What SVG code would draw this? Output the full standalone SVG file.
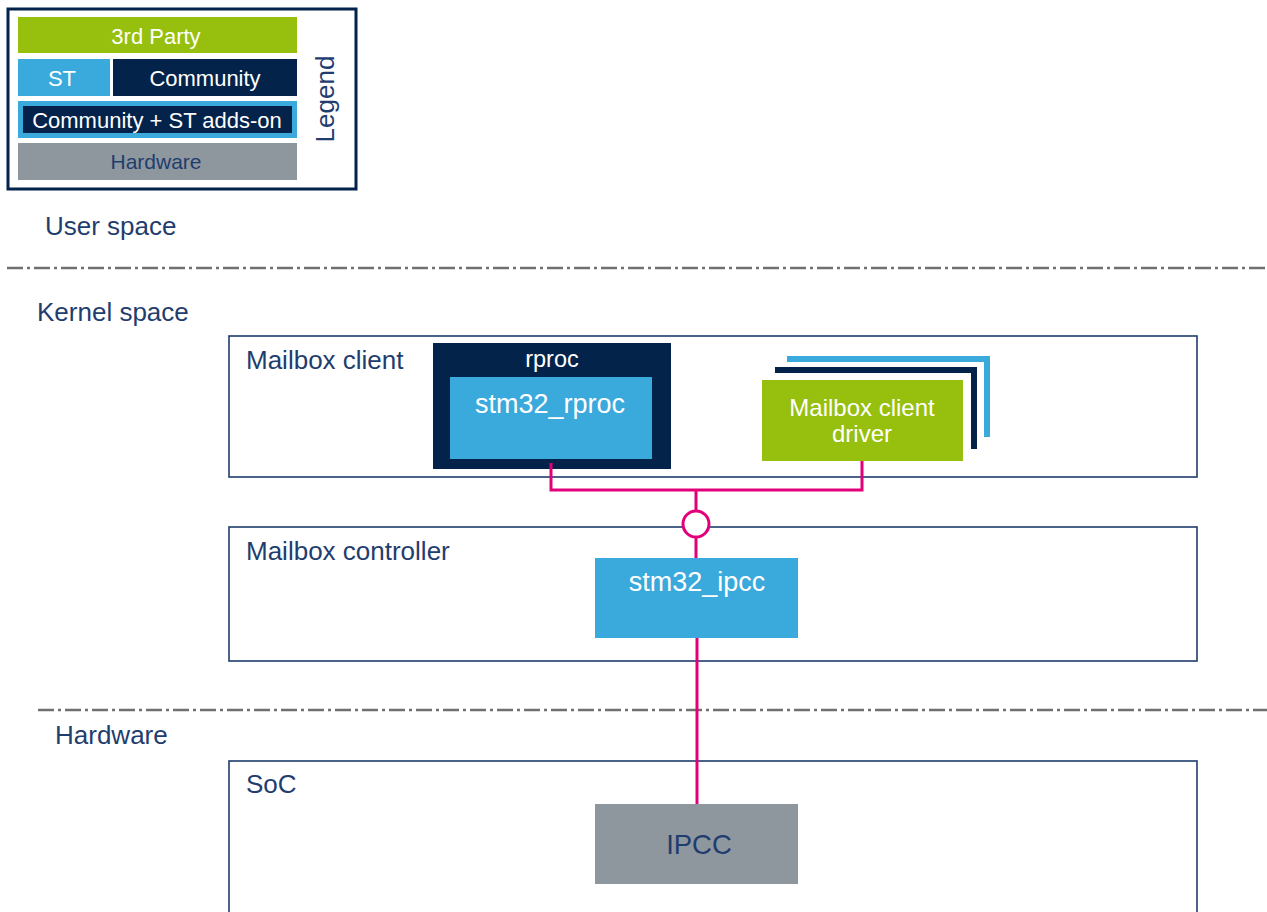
<svg xmlns="http://www.w3.org/2000/svg" width="1267" height="912" viewBox="0 0 1267 912">
<style>
text{font-family:"Liberation Sans",Arial,sans-serif}
.t{fill:#1F3D6E;font-size:26px}
.w{fill:#FFFFFF;text-anchor:middle}
.lg{font-size:22px;text-anchor:middle}
.frame{fill:#FFFFFF;stroke:#1E3C6C;stroke-width:1.6}
.navy{fill:#03234B}
.blue{fill:#3AA9DC}
.green{fill:#97BF0D}
.gray{fill:#8F979E}
.sep{fill:none;stroke:#707070;stroke-width:2.5;stroke-dasharray:16 4 3 4}
.link{fill:none;stroke:#E2007A;stroke-width:3}
</style>
<rect width="1267" height="912" fill="#FFFFFF"/>

<g id="legend">
<rect x="8" y="9" width="348" height="180" fill="#FFFFFF" stroke="#03234B" stroke-width="3"/>
<rect x="18" y="17" width="279" height="36" class="green"/>
<text x="156" y="44" class="lg w">3rd Party</text>
<rect x="18" y="59" width="92" height="37" class="blue"/>
<text x="62" y="86" class="lg w">ST</text>
<rect x="113" y="59" width="184" height="37" class="navy"/>
<text x="205" y="86" class="lg w">Community</text>
<rect x="18" y="101" width="279" height="37" class="blue"/>
<rect x="23" y="106" width="269" height="27" class="navy"/>
<text x="157" y="128" class="lg w">Community + ST adds-on</text>
<rect x="18" y="143" width="279" height="37" class="gray"/>
<text x="156" y="169" font-size="21" text-anchor="middle" fill="#1F3D6E">Hardware</text>
<text transform="translate(334,99) rotate(-90)" font-size="26" text-anchor="middle" fill="#1F3D6E">Legend</text>
</g>

<g id="separators">
<line x1="7" y1="268" x2="1267" y2="268" class="sep"/>
<line x1="38" y1="710" x2="1267" y2="710" class="sep"/>
</g>

<g id="layer-labels">
<text x="45" y="235" class="t">User space</text>
<text x="37" y="321" class="t">Kernel space</text>
<text x="55" y="744" class="t">Hardware</text>
</g>

<g id="mailbox-client">
<rect x="229" y="336" width="968" height="141" class="frame"/>
<text x="246" y="369" class="t">Mailbox client</text>
</g>

<g id="rproc">
<rect x="433" y="343" width="238" height="126" class="navy"/>
<text x="552" y="367" class="w" font-size="23.5">rproc</text>
</g>

<g id="stm32_rproc">
<rect x="450" y="377" width="202" height="82" class="blue"/>
<text x="550" y="413" class="w" font-size="27">stm32_rproc</text>
</g>

<g id="mailbox-client-driver">
<polyline points="787,359 987,359 987,437" fill="none" stroke="#3AA9DC" stroke-width="6"/>
<polyline points="775,370 974,370 974,449" fill="none" stroke="#03234B" stroke-width="6"/>
<rect x="762" y="380" width="201" height="81" class="green"/>
<text x="862" y="416" class="w" font-size="24">Mailbox client</text>
<text x="862" y="442" class="w" font-size="24">driver</text>
</g>

<g id="mailbox-controller">
<rect x="229" y="527" width="968" height="134" class="frame"/>
<text x="246" y="560" class="t">Mailbox controller</text>
</g>

<g id="stm32_ipcc">
<rect x="595" y="558" width="203" height="80" class="blue"/>
<text x="697" y="591" class="w" font-size="27">stm32_ipcc</text>
</g>

<g id="soc">
<rect x="229" y="761" width="968" height="160" class="frame"/>
<text x="246" y="793" class="t">SoC</text>
</g>

<g id="ipcc">
<rect x="595" y="804" width="203" height="80" class="gray"/>
<text x="699" y="854" font-size="27.5" fill="#1F3D6E" text-anchor="middle">IPCC</text>
</g>

<g id="connectors">
<polyline points="551,463 551,490 862,490 862,461" class="link"/>
<line x1="696" y1="490" x2="696" y2="511" class="link"/>
<circle cx="696" cy="524" r="13" fill="#FFFFFF" stroke="#E2007A" stroke-width="3"/>
<line x1="696" y1="537" x2="696" y2="558" class="link"/>
<line x1="697" y1="638" x2="697" y2="804" class="link"/>
</g>
</svg>
